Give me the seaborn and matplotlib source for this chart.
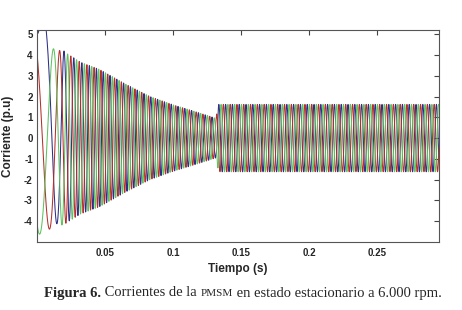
import numpy as np
import pandas as pd
import matplotlib
matplotlib.use('Agg')
import matplotlib.pyplot as plt
import seaborn as sns
from matplotlib.offsetbox import TextArea, HPacker, AnchoredOffsetbox

# envelope of the phase currents (p.u)
t_env = [0.0, 0.005, 0.012, 0.020, 0.032, 0.046, 0.065, 0.083, 0.100, 0.115, 0.127, 0.1315, 0.1335, 0.150, 0.200, 0.250, 0.296]
amp_env = [4.7, 4.5, 4.3, 4.15, 3.65, 3.3, 2.6, 2.0, 1.6, 1.3, 1.05, 0.95, 1.62, 1.62, 1.62, 1.62, 1.62]

# electrical frequency during start-up (Hz)
t_freq = [0.0, 0.009, 0.015, 0.019, 0.024, 0.030, 0.045, 0.296]
freq = [40, 50, 75, 110, 145, 170, 200, 200]

fases = ['ia', 'ib', 'ic']
desfase = [0.0, 2 * np.pi / 3, 4 * np.pi / 3]
colores = {'ia': '#2f2f86', 'ib': '#b5302c', 'ic': '#5fc25f'}
offset_ia = 5.0   # initial offset of phase a

x_ticks = [0.05, 0.1, 0.15, 0.2, 0.25]
x_labels = ['0.05', '0.1', '0.15', '0.2', '0.25']
y_ticks = [-4, -3, -2, -1, 0, 1, 2, 3, 4, 5]

# build the waveforms
t = np.arange(0, 0.2956, 2e-5)
amp = np.interp(t, t_env, amp_env)
f = np.interp(t, t_freq, freq)
theta = -np.pi / 2 + 2 * np.pi * np.cumsum(f) * 2e-5

frames = []
for fase, d in zip(fases, desfase):
    i = amp * np.cos(theta + d)
    if fase == 'ia':
        i = i + offset_ia * np.exp(-t / 0.004)
    frames.append(pd.DataFrame({'t': t, 'i': i, 'fase': fase}))
df = pd.concat(frames, ignore_index=True)

sns.set_style('white')
plt.rcParams['font.family'] = ['Liberation Sans', 'DejaVu Sans']

fig = plt.figure(figsize=(4.62, 3.10), dpi=100)
ax = fig.add_axes([37 / 462, 1 - 242 / 310, 402 / 462, 212 / 310])

sns.lineplot(data=df, x='t', y='i', hue='fase', hue_order=fases, palette=colores,
             estimator=None, sort=False, linewidth=0.75, legend=False, ax=ax)

ax.set_xlim(0, 0.2956)
ax.set_ylim(-5, 5.2)
ax.set_xticks(x_ticks)
ax.set_xticklabels(x_labels)
ax.set_yticks(y_ticks)
ax.set_yticklabels([str(v) for v in y_ticks])
ax.tick_params(direction='in', top=True, right=True, length=3.5, width=0.8,
               labelsize=7, color='#444444')
ax.tick_params(axis='x', pad=4)
ax.tick_params(axis='y', pad=3)
for lab in ax.get_xticklabels() + ax.get_yticklabels():
    lab.set_fontweight('bold')
for s in ax.spines.values():
    s.set_color('#555555')
    s.set_linewidth(0.8)

ax.set_xlabel('Tiempo (s)', fontsize=8.5, fontweight='bold')
ax.set_ylabel('Corriente (p.u)', fontsize=8.5, fontweight='bold')
ax.xaxis.set_label_coords(0.5, -0.10)
ax.yaxis.set_label_coords(-0.057, 0.5)

# caption
serif = 'Liberation Serif'
partes = [
    TextArea('Figura 6.', textprops=dict(family=serif, size=10.5, weight='bold')),
    TextArea(' Corrientes de la ', textprops=dict(family=serif, size=10.5)),
    TextArea('PMSM', textprops=dict(family=serif, size=8)),
    TextArea(' en estado estacionario a 6.000 rpm.', textprops=dict(family=serif, size=10.5)),
]
caja = HPacker(children=partes, align='baseline', pad=0, sep=0)
anc = AnchoredOffsetbox(loc='center', child=caja, pad=0, frameon=False,
                        bbox_to_anchor=(243 / 462, 1 - 293 / 310),
                        bbox_transform=fig.transFigure, borderpad=0)
fig.add_artist(anc)

fig.savefig('out.png', dpi=100)
